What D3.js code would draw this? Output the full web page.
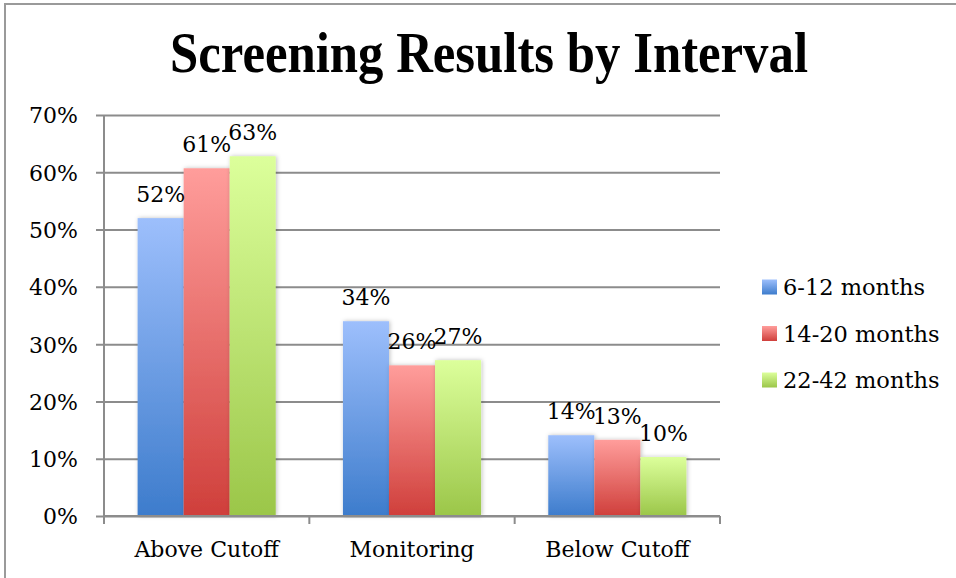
<!DOCTYPE html>
<html>
<head>
<meta charset="utf-8">
<script src="https://cdn.jsdelivr.net/npm/d3@7"></script>
<style>
  body { margin: 0; background: #fff; }
  svg { display: block; }
  svg text { font-family: "DejaVu Serif", "Liberation Serif", serif; fill: #000; }
  svg text.title { font-family: "Liberation Serif", serif; }
</style>
</head>
<body>
<svg id="chart" width="956" height="578"></svg>
<script>
// chart data
var categories = ["Above Cutoff", "Monitoring", "Below Cutoff"];
var seriesNames = ["6-12 months", "14-20 months", "22-42 months"];
var values612 = [0.52, 0.34, 0.141];
var values1420 = [0.607, 0.263, 0.133];
var values2242 = [0.628, 0.272, 0.103];
var yTicks = [0, 0.1, 0.2, 0.3, 0.4, 0.5, 0.6, 0.7];

var seriesValues = [values612, values1420, values2242];
var gradColors = [
  ["#9dbffc", "#3d7ccc"],
  ["#ff9d9b", "#cf3f3b"],
  ["#dcff9b", "#9bc649"]
];

var svg = d3.select("#chart");
var margin = {left: 104, right: 236, top: 115, bottom: 62};
var W = 956, H = 578;

var x = d3.scaleBand().domain(categories).range([margin.left, W - margin.right]);
var y = d3.scaleLinear().domain([0, 0.7]).range([H - margin.bottom, margin.top]);
var xs = d3.scaleBand().domain(d3.range(seriesNames.length))
  .range([0, x.bandwidth()]).paddingOuter(0.73).paddingInner(0);

// gradients
var defs = svg.append("defs");
gradColors.forEach(function(c, i) {
  var g = defs.append("linearGradient").attr("id", "grad" + i)
    .attr("x1", 0).attr("y1", 0).attr("x2", 0).attr("y2", 1);
  g.append("stop").attr("offset", "0%").attr("stop-color", c[0]);
  g.append("stop").attr("offset", "100%").attr("stop-color", c[1]);
});
var f = defs.append("filter").attr("id", "shadow").attr("x", "-20%").attr("y", "-20%").attr("width", "140%").attr("height", "140%");
f.append("feDropShadow").attr("dx", 1).attr("dy", 0).attr("stdDeviation", 2).attr("flood-color", "#000").attr("flood-opacity", 0.25);

// outer frame
svg.append("path").attr("d", "M5,578 V4 H956").attr("fill", "none").attr("stroke", "#9a9a9a").attr("stroke-width", 2);

// title
svg.append("text")
  .attr("class", "title")
  .attr("x", 489).attr("y", 72)
  .attr("text-anchor", "middle")
  .attr("font-size", 57).attr("font-weight", "bold")
  .attr("textLength", 638).attr("lengthAdjust", "spacingAndGlyphs")
  .text("Screening Results by Interval");

// gridlines and y axis
var yAxis = d3.axisLeft(y).tickValues(yTicks).tickSize(-(W - margin.right - margin.left))
  .tickPadding(26).tickFormat(d3.format(".0%"));
var gy = svg.append("g").attr("transform", "translate(" + margin.left + ",0)").call(yAxis);
gy.select(".domain").remove();
gy.selectAll(".tick line").attr("stroke", "#8c8c8c").attr("stroke-width", 2).attr("x1", -8);
gy.selectAll(".tick text").attr("font-size", 22).attr("dy", "0.36em");

svg.append("line").attr("x1", margin.left).attr("x2", margin.left)
  .attr("y1", margin.top).attr("y2", H - margin.bottom + 8)
  .attr("stroke", "#8c8c8c").attr("stroke-width", 2);

// bars
seriesValues.forEach(function(vals, si) {
  svg.append("g").selectAll("rect").data(vals).enter().append("rect")
    .attr("x", function(d, i) { return x(categories[i]) + xs(si); })
    .attr("y", function(d) { return y(d); })
    .attr("width", xs.bandwidth())
    .attr("height", function(d) { return y(0) - y(d); })
    .attr("fill", "url(#grad" + si + ")")
    .attr("filter", "url(#shadow)");
});

// data labels
seriesValues.forEach(function(vals, si) {
  svg.append("g").selectAll("text").data(vals).enter().append("text")
    .attr("x", function(d, i) { return x(categories[i]) + xs(si) + xs.bandwidth() / 2; })
    .attr("y", function(d) { return y(d) - 16; })
    .attr("text-anchor", "middle")
    .attr("font-size", 22)
    .text(function(d) { return Math.round(d * 100) + "%"; });
});

// x axis
var xAxis = d3.axisBottom(x).tickSize(0).tickPadding(25);
var gx = svg.append("g").attr("transform", "translate(0," + y(0) + ")").call(xAxis);
gx.select(".domain").remove();
gx.selectAll(".tick text").attr("font-size", 22);
svg.append("line").attr("x1", margin.left).attr("x2", W - margin.right)
  .attr("y1", y(0)).attr("y2", y(0)).attr("stroke", "#8c8c8c").attr("stroke-width", 2);
var bounds = categories.map(function(c) { return x(c); }).concat([W - margin.right]);
svg.append("g").selectAll("line").data(bounds).enter().append("line")
  .attr("x1", function(d) { return d; }).attr("x2", function(d) { return d; })
  .attr("y1", y(0)).attr("y2", y(0) + 8)
  .attr("stroke", "#8c8c8c").attr("stroke-width", 2);

// legend
var legend = svg.append("g").selectAll("g").data(seriesNames).enter().append("g")
  .attr("transform", function(d, i) { return "translate(762," + (287 + i * 46.5) + ")"; });
legend.append("rect").attr("x", 0).attr("y", -7.5).attr("width", 15).attr("height", 15)
  .attr("fill", function(d, i) { return "url(#grad" + i + ")"; });
legend.append("text").attr("x", 21).attr("y", 0).attr("dy", "0.36em")
  .attr("font-size", 22.5).text(function(d) { return d; });
</script>
</body>
</html>
